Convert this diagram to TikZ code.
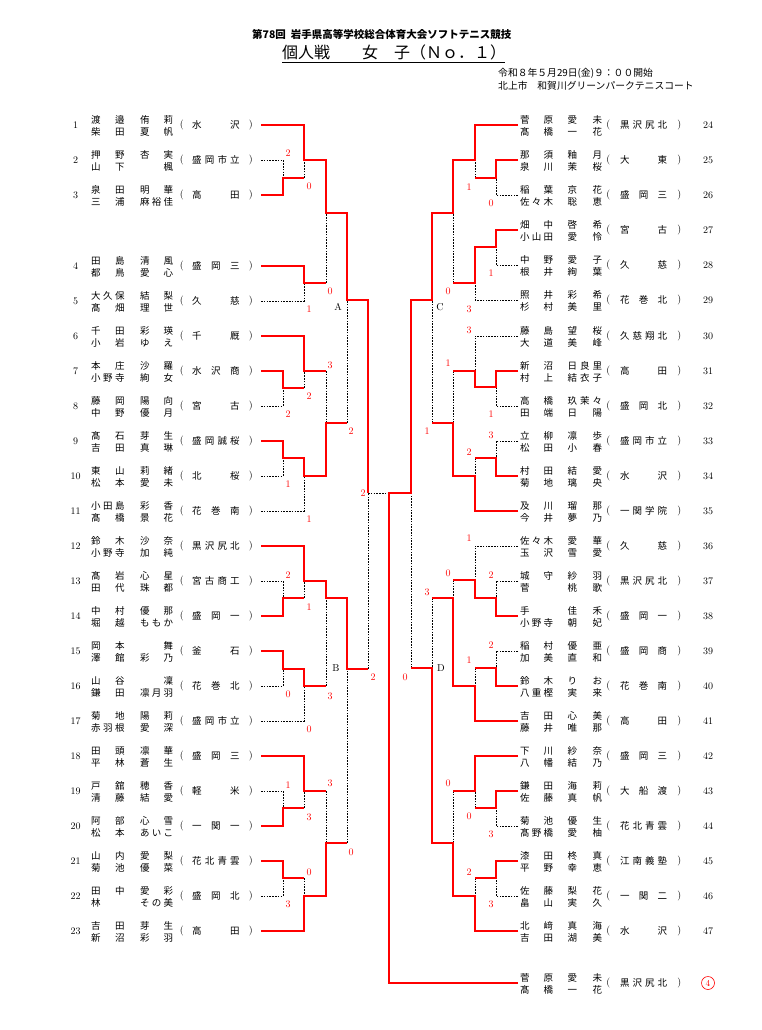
\documentclass[tikz,border=0pt]{standalone}
\usepackage{fontspec}
\newfontfamily\jp{Noto Sans CJK JP}
\makeatletter
\newcommand\dist[2]{\hbox to #1{\def\dsep{}\@tfor\dch:=#2\do{\dsep\dch\def\dsep{\hfill}}}}
\makeatother
\tikzset{
 win/.style={draw=red, line width=2pt},
 lose/.style={draw=black, line width=0.9pt, dash pattern=on 1.6pt off 1.2pt},
 num/.style={font=\fontsize{10}{10}\selectfont, inner sep=0pt, anchor=base},
 rnum/.style={font=\fontsize{10}{10}\selectfont, inner sep=0pt, anchor=base west},
 nm/.style={font=\jp\fontsize{9.5}{9.5}\selectfont, inner sep=0pt, anchor=base west},
 par/.style={font=\fontsize{10}{10}\selectfont, inner sep=0pt, anchor=base},
 sc/.style={text=red, font=\fontsize{10}{10}\selectfont, inner sep=0pt},
 blk/.style={font=\fontsize{10}{10}\selectfont, inner sep=0pt},
 hdr/.style={inner sep=0pt, anchor=base west},
}
\newcommand\EL[7]{%
 \node[num] (L#1n) at (75.5,#2+3.3) {#1};
 \node[nm] (L#1a) at (91,#2-1.9) {\dist{33.5pt}{#3}};
 \node[nm] (L#1b) at (140,#2-1.9) {\dist{33pt}{#4}};
 \node[nm] (L#1c) at (91,#2+10.1) {\dist{33.5pt}{#5}};
 \node[nm] (L#1d) at (140,#2+10.1) {\dist{33pt}{#6}};
 \node[par] (L#1o) at (181.7,#2+2.5) {(};
 \node[nm] (L#1s) at (192,#2+3.6) {\dist{47.5pt}{#7}};
 \node[par] (L#1p) at (250.7,#2+2.5) {)};
 \coordinate (s#1) at (261,#2);}
\newcommand\ERbase[7]{%
 \node[nm] (R#1a) at (520,#2-1.9) {\dist{33pt}{#3}};
 \node[nm] (R#1b) at (567.5,#2-1.9) {\dist{34.5pt}{#4}};
 \node[nm] (R#1c) at (520,#2+10.1) {\dist{33pt}{#5}};
 \node[nm] (R#1d) at (567.5,#2+10.1) {\dist{34.5pt}{#6}};
 \node[par] (R#1o) at (608.3,#2+2.5) {(};
 \node[nm] (R#1s) at (620,#2+3.6) {\dist{47pt}{#7}};
 \node[par] (R#1p) at (679.3,#2+2.5) {)};
 \coordinate (s#1) at (518,#2);}
\newcommand\ER[7]{\ERbase{#1}{#2}{#3}{#4}{#5}{#6}{#7}\node[rnum] (R#1n) at (703,#2+3.3) {#1};}
\begin{document}
\begin{tikzpicture}[x=1pt,y=-1pt]
\fill[white] (0,0) rectangle (761,1030);
\path[use as bounding box] (0,0) rectangle (761,1030);
% header
\node[hdr, font=\jp\bfseries\fontsize{10.5}{10.5}\selectfont] (hd) at (252,39) {第78回\hspace{5pt}岩手県高等学校総合体育大会ソフトテニス競技};
\node[hdr, font=\jp\fontsize{16}{16}\selectfont] (ttl) at (282,59) {個人戦　　女　子（Ｎｏ．１）};
\draw[line width=1pt] (282,62.5) -- (505,62.5);
\node[hdr, font=\jp\fontsize{9.8}{9.8}\selectfont] (dt) at (498,76.6) {令和８年５月29日(金)９：００開始};
\node[hdr, font=\jp\fontsize{9.8}{9.8}\selectfont] (vn) at (498,89.6) {北上市　和賀川グリーンパークテニスコート};
% left entries
\EL{1}{125}{渡邉}{侑莉}{柴田}{夏帆}{水沢}
\EL{2}{160}{押野}{杏実}{山下}{\hfill 楓}{盛岡市立}
\EL{3}{195}{泉田}{明華}{三浦}{麻裕佳}{高田}
\EL{4}{266}{田島}{清風}{都鳥}{愛心}{盛岡三}
\EL{5}{301}{大久保}{結梨}{髙畑}{理世}{久慈}
\EL{6}{336}{千田}{彩瑛}{小岩}{ゆえ}{千厩}
\EL{7}{371}{本庄}{沙羅}{小野寺}{絢女}{水沢商}
\EL{8}{406}{藤岡}{陽向}{中野}{優月}{宮古}
\EL{9}{441}{髙石}{芽生}{吉田}{真琳}{盛岡誠桜}
\EL{10}{476}{東山}{莉緒}{松本}{愛未}{北桜}
\EL{11}{511}{小田島}{彩香}{髙橋}{景花}{花巻南}
\EL{12}{546}{鈴木}{沙奈}{小野寺}{加純}{黒沢尻北}
\EL{13}{581}{髙岩}{心星}{田代}{珠都}{宮古商工}
\EL{14}{616}{中村}{優那}{堀越}{ももか}{盛岡一}
\EL{15}{651}{岡本}{\hfill 舞}{澤館}{彩乃}{釜石}
\EL{16}{686}{山谷}{\hfill 凜}{鎌田}{凛月羽}{花巻北}
\EL{17}{721}{菊地}{陽莉}{赤羽根}{愛深}{盛岡市立}
\EL{18}{756}{田頭}{凛華}{平林}{蒼生}{盛岡三}
\EL{19}{791}{戸舘}{穂香}{清藤}{結愛}{軽米}
\EL{20}{826}{阿部}{心雪}{松本}{あいこ}{一関一}
\EL{21}{861}{山内}{愛梨}{菊池}{優菜}{花北青雲}
\EL{22}{896}{田中}{愛彩}{林\hfill}{その美}{盛岡北}
\EL{23}{931}{吉田}{芽生}{新沼}{彩羽}{高田}
% right entries
\ER{24}{125}{菅原}{愛未}{髙橋}{一花}{黒沢尻北}
\ER{25}{160}{那須}{釉月}{泉川}{茉桜}{大東}
\ER{26}{195}{稲葉}{京花}{佐々木}{聡恵}{盛岡三}
\ER{27}{230}{畑中}{啓希}{小山田}{愛怜}{宮古}
\ER{28}{265}{中野}{愛子}{根井}{絢葉}{久慈}
\ER{29}{300}{照井}{彩希}{杉村}{美里}{花巻北}
\ER{30}{336}{藤島}{望桜}{大道}{美峰}{久慈翔北}
\ER{31}{371}{新沼}{日良里}{村上}{結衣子}{高田}
\ER{32}{406}{高橋}{玖茉々}{田端}{日陽}{盛岡北}
\ER{33}{441}{立柳}{凛歩}{松田}{小春}{盛岡市立}
\ER{34}{476}{村田}{結愛}{菊地}{璃央}{水沢}
\ER{35}{511}{及川}{瑠那}{今井}{夢乃}{一関学院}
\ER{36}{546}{佐々木}{愛華}{玉沢}{雪愛}{久慈}
\ER{37}{581}{城守}{紗羽}{菅\hfill}{桃歌}{黒沢尻北}
\ER{38}{616}{手\hfill}{佳禾}{小野寺}{朝妃}{盛岡一}
\ER{39}{651}{稲村}{優亜}{加美}{直和}{盛岡商}
\ER{40}{686}{鈴木}{りお}{八重樫}{実来}{花巻南}
\ER{41}{721}{吉田}{心美}{藤井}{唯那}{高田}
\ER{42}{756}{下川}{紗奈}{八幡}{結乃}{盛岡三}
\ER{43}{791}{鎌田}{海莉}{佐藤}{真帆}{大船渡}
\ER{44}{826}{菊池}{優生}{髙野橋}{愛柚}{花北青雲}
\ER{45}{861}{漆田}{柊真}{平野}{幸恵}{江南義塾}
\ER{46}{896}{佐藤}{梨花}{畠山}{実久}{一関二}
\ER{47}{931}{北﨑}{真海}{吉田}{湖美}{水沢}
\ERbase{48}{983}{菅原}{愛未}{髙橋}{一花}{黒沢尻北}
\node[circle, draw=red, text=red, line width=0.6pt, inner sep=0pt, minimum size=13pt, font=\fontsize{9}{9}\selectfont] (rk) at (708,983) {4};
% junctions
\coordinate (a1) at (283,178); \coordinate (a2) at (304,160);
\coordinate (a3) at (304,283); \coordinate (a4) at (326,213);
\coordinate (a5) at (283,388); \coordinate (a6) at (304,371);
\coordinate (a7) at (283,458); \coordinate (a8) at (304,476);
\coordinate (a9) at (326,423); \coordinate (a10) at (347,300);
\coordinate (b1) at (283,598); \coordinate (b2) at (304,581);
\coordinate (b3) at (283,669); \coordinate (b4) at (304,686);
\coordinate (b5) at (326,598); \coordinate (b6) at (283,808);
\coordinate (b7) at (304,791); \coordinate (b8) at (283,878);
\coordinate (b9) at (304,896); \coordinate (b10) at (326,843);
\coordinate (b11) at (347,669); \coordinate (h1) at (368,493);
\coordinate (F) at (389,493);
\coordinate (c1) at (496,178); \coordinate (c2) at (475,160);
\coordinate (c3) at (496,247); \coordinate (c4) at (475,283);
\coordinate (c5) at (453,213); \coordinate (c6) at (496,387);
\coordinate (c7) at (475,371); \coordinate (c8) at (496,458);
\coordinate (c9) at (475,476); \coordinate (c10) at (453,423);
\coordinate (c11) at (432,300);
\coordinate (d1) at (496,598); \coordinate (d2) at (475,580);
\coordinate (d3) at (496,668); \coordinate (d4) at (475,686);
\coordinate (d5) at (453,598); \coordinate (d6) at (496,808);
\coordinate (d7) at (475,791); \coordinate (d8) at (496,878);
\coordinate (d9) at (475,896); \coordinate (d10) at (453,843);
\coordinate (d11) at (432,668); \coordinate (h2) at (411,493);
% losing segments
\draw[lose] (s2) -| (a1);
\draw[lose] (a1 -| a2) -- (a2);
\draw[lose] (a3 -| a4) -- (a4);
\draw[lose] (s5) -| (a3);
\draw[lose] (a6 -| a9) -- (a9);
\draw[lose] (a5 -| a6) -- (a6);
\draw[lose] (s8) -| (a5);
\draw[lose] (a9 -| a10) -- (a10);
\draw[lose] (s10) -| (a7);
\draw[lose] (s11) -| (a8);
\draw[lose] (b11 -| h1) -- (h1);
\draw[lose] (s13) -| (b1);
\draw[lose] (b1 -| b2) -- (b2);
\draw[lose] (b4 -| b5) -- (b5);
\draw[lose] (s16) -| (b3);
\draw[lose] (s17) -| (b4);
\draw[lose] (b7 -| b10) -- (b10);
\draw[lose] (s19) -| (b6);
\draw[lose] (b6 -| b7) -- (b7);
\draw[lose] (b8 -| b9) -- (b9);
\draw[lose] (s22) -| (b8);
\draw[lose] (b10 -| b11) -- (b11);
\draw[lose] (h1) -- (F);
\draw[lose] (c1 -| c2) -- (c2);
\draw[lose] (s26) -| (c1);
\draw[lose] (c4 -| c5) -- (c5);
\draw[lose] (s28) -| (c3);
\draw[lose] (s29) -| (c4);
\draw[lose] (s30) -| (c7);
\draw[lose] (c7 -| c10) -- (c10);
\draw[lose] (s32) -| (c6);
\draw[lose] (s33) -| (c8);
\draw[lose] (c8 -| c9) -- (c9);
\draw[lose] (c10 -| c11) -- (c11);
\draw[lose] (s36) -| (d2);
\draw[lose] (s37) -| (d1);
\draw[lose] (d2 -| d5) -- (d5);
\draw[lose] (s39) -| (d3);
\draw[lose] (d3 -| d4) -- (d4);
\draw[lose] (d5 -| d11) -- (d11);
\draw[lose] (d7 -| d10) -- (d10);
\draw[lose] (d6 -| d7) -- (d7);
\draw[lose] (s44) -| (d6);
\draw[lose] (d8 -| d9) -- (d9);
\draw[lose] (s46) -| (d8);
\draw[lose] (d11 -| h2) -- (h2);
% winning paths
\draw[win] (s1) -| (a2) -| (a4) -| (a10) -| (h1);
\draw[win] (s3) -| (a1) -- (a1 -| a2);
\draw[win] (s4) -| (a3) -- (a3 -| a4);
\draw[win] (s6) -| (a6) -- (a6 -| a9);
\draw[win] (s7) -| (a5) -- (a5 -| a6);
\draw[win] (s9) -| (a7) -| (a8) -| (a9) -- (a9 -| a10);
\draw[win] (s12) -| (b2) -| (b5) -| (b11) -- (b11 -| h1);
\draw[win] (s14) -| (b1) -- (b1 -| b2);
\draw[win] (s15) -| (b3) -| (b4) -- (b4 -| b5);
\draw[win] (s18) -| (b7) -- (b7 -| b10);
\draw[win] (s20) -| (b6) -- (b6 -| b7);
\draw[win] (s21) -| (b8) -- (b8 -| b9);
\draw[win] (s23) -| (b9) -| (b10) -- (b10 -| b11);
\draw[win] (s24) -| (c2) -| (c5) -| (c11) -| (h2) -- (F) |- (s48);
\draw[win] (s25) -| (c1) -- (c1 -| c2);
\draw[win] (s27) -| (c3) -| (c4) -- (c4 -| c5);
\draw[win] (s31) -| (c6) -| (c7) -- (c7 -| c10);
\draw[win] (s34) -| (c8) -- (c8 -| c9);
\draw[win] (s35) -| (c9) -| (c10) -- (c10 -| c11);
\draw[win] (s38) -| (d1) -| (d2) -- (d2 -| d5);
\draw[win] (s40) -| (d3) -- (d3 -| d4);
\draw[win] (s41) -| (d4) -| (d5) -- (d5 -| d11);
\draw[win] (s42) -| (d7) -- (d7 -| d10);
\draw[win] (s43) -| (d6) -- (d6 -| d7);
\draw[win] (s45) -| (d8) -- (d8 -| d9);
\draw[win] (s47) -| (d9) -| (d10) -| (d11) -- (d11 -| h2);
% block letters
\node[blk] (bA) at (338,307) {A};
\node[blk] (bB) at (336,668) {B};
\node[blk] (bC) at (440,307) {C};
\node[blk] (bD) at (441,668) {D};
% scores
\node[sc] (x1) at (288,153) {2};
\node[sc] (x2) at (309,186) {0};
\node[sc] (x3) at (309,309) {1};
\node[sc] (x4) at (330,291) {0};
\node[sc] (x5) at (288,414) {2};
\node[sc] (x6) at (309,396) {2};
\node[sc] (x7) at (288,484) {1};
\node[sc] (x8) at (309,519) {1};
\node[sc] (x9) at (330,365) {3};
\node[sc] (x10) at (351,431) {2};
\node[sc] (x11) at (373,677) {2};
\node[sc] (x12) at (363,493) {2};
\node[sc] (x13) at (288,575) {2};
\node[sc] (x14) at (309,607) {1};
\node[sc] (x15) at (288,694) {0};
\node[sc] (x16) at (309,729) {0};
\node[sc] (x17) at (330,696) {3};
\node[sc] (x18) at (288,785) {1};
\node[sc] (x19) at (309,817) {3};
\node[sc] (x20) at (288,904) {3};
\node[sc] (x21) at (309,872) {0};
\node[sc] (x22) at (330,783) {3};
\node[sc] (x23) at (351,852) {0};
\node[sc] (y1) at (491,203) {0};
\node[sc] (y2) at (469,187) {1};
\node[sc] (y3) at (491,273) {1};
\node[sc] (y4) at (469,309) {3};
\node[sc] (y5) at (448,291) {0};
\node[sc] (y6) at (491,414) {1};
\node[sc] (y7) at (469,330) {3};
\node[sc] (y8) at (491,435) {3};
\node[sc] (y9) at (469,452) {2};
\node[sc] (y10) at (448,363) {1};
\node[sc] (y11) at (427,431) {1};
\node[sc] (y12) at (405,677) {0};
\node[sc] (y13) at (491,575) {2};
\node[sc] (y14) at (469,538) {1};
\node[sc] (y15) at (491,645) {2};
\node[sc] (y16) at (469,660) {1};
\node[sc] (y17) at (448,573) {0};
\node[sc] (y18) at (491,834) {3};
\node[sc] (y19) at (469,816) {0};
\node[sc] (y20) at (491,904) {3};
\node[sc] (y21) at (469,872) {2};
\node[sc] (y22) at (448,783) {0};
\node[sc] (y23) at (427,592) {3};
\end{tikzpicture}
\end{document}
